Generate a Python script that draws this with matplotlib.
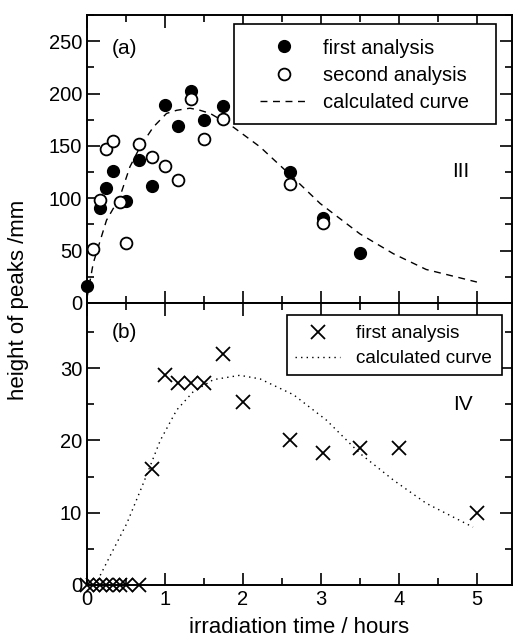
import matplotlib
matplotlib.use("Agg")
import matplotlib.pyplot as plt
from matplotlib.ticker import MultipleLocator
from matplotlib.patches import Rectangle

plt.rcParams['font.family'] = ['Liberation Sans', 'DejaVu Sans']

# ---- panel (a) data ----
t_first_a = [0.0, 0.167, 0.25, 0.333, 0.5, 0.667, 0.833, 1.0, 1.167, 1.333, 1.5, 1.75, 2.6, 3.03, 3.5]
h_first_a = [16, 91, 110, 126, 97, 137, 112, 189, 169, 202, 175, 188, 125, 81, 48]

t_second_a = [0.083, 0.167, 0.25, 0.333, 0.417, 0.5, 0.667, 0.833, 1.0, 1.167, 1.333, 1.5, 1.75, 2.6, 3.03]
h_second_a = [52, 98, 147, 155, 96, 57, 152, 139, 131, 117, 195, 157, 176, 114, 76]

t_calc_a = [0.0, 0.08, 0.25, 0.42, 0.55, 0.68, 0.85, 1.02, 1.15, 1.32, 1.45, 1.58, 1.875, 2.22, 2.64, 2.99, 3.5, 3.93, 4.35, 5.0]
h_calc_a = [5, 38, 79, 101, 130, 149, 168, 181, 184, 186, 184, 181, 168, 149, 120, 95, 66, 47, 32, 20]

# ---- panel (b) data ----
t_first_b = [0.0, 0.083, 0.167, 0.25, 0.333, 0.417, 0.5, 0.667, 0.833, 1.0, 1.167, 1.333, 1.5, 1.75, 2.0, 2.6, 3.03, 3.5, 4.0, 5.0]
h_first_b = [0, 0, 0, 0, 0, 0, 0, 0, 16, 29, 28, 28, 28, 32, 25.3, 20, 18.2, 19, 19, 10]

t_calc_b = [0.1, 0.14, 0.29, 0.51, 0.72, 0.94, 1.15, 1.36, 1.62, 1.96, 2.22, 2.65, 3.07, 3.5, 3.93, 4.35, 4.95]
h_calc_b = [0, 0.7, 3.9, 8.5, 14, 20, 24.2, 26.7, 28.4, 29.0, 28.5, 26.3, 22.8, 18.2, 14.5, 11.3, 8.0]

W, H = 516, 644
fig = plt.figure(figsize=(W/100, H/100), dpi=100)
ax1 = fig.add_axes([87/W, 1-303/H, (512-87)/W, (303-15)/H])
ax2 = fig.add_axes([87/W, 1-585/H, (512-87)/W, (585-303)/H])

fs_tick = 14.5
for ax in (ax1, ax2):
    ax.set_xlim(0, 5.45)
    ax.xaxis.set_major_locator(MultipleLocator(1))
    ax.xaxis.set_minor_locator(MultipleLocator(0.5))
    ax.tick_params(which='both', direction='in', top=True, right=True, labelsize=fs_tick, width=1.2)
    ax.tick_params(which='major', length=9)
    ax.tick_params(which='minor', length=5)
    for s in ax.spines.values():
        s.set_linewidth(1.4)

# panel (a)
ax1.plot(t_calc_a, h_calc_a, color='black', ls=(0, (5, 4)), lw=1.0, label='calculated curve', zorder=2)
ax1.plot(t_first_a, h_first_a, 'o', color='black', ms=8.5, label='first analysis', zorder=3, clip_on=False)
ax1.plot(t_second_a, h_second_a, 'o', mfc='white', mec='black', mew=1.3, ms=8.5, label='second analysis', zorder=4, clip_on=False)
ax1.set_ylim(0, 275)
ax1.yaxis.set_major_locator(MultipleLocator(50))
ax1.yaxis.set_minor_locator(MultipleLocator(25))
ax1.tick_params(labelbottom=False)

# legend frame (a)
ax1.add_patch(Rectangle((234/W, 1-124/H), (496-234)/W, (124-24)/H, transform=fig.transFigure,
                        fill=True, facecolor='white', edgecolor='black', lw=1.2, zorder=5, clip_on=False))
h, l = ax1.get_legend_handles_labels()
order = [1, 2, 0]
leg1 = ax1.legend([h[i] for i in order], [l[i] for i in order], loc='upper left',
                  bbox_to_anchor=(260/W, 1-38.5/H), bbox_transform=fig.transFigure,
                  fontsize=14.5, frameon=False, borderpad=0, borderaxespad=0,
                  handlelength=2.35, labelspacing=0.4, handletextpad=0.8)
leg1.set_zorder(6)
ax1.text(112/W, 1-48/H, '(a)', transform=fig.transFigure, fontsize=15, va='center', ha='left')
ax1.text(461/W, 1-172/H, 'III', transform=fig.transFigure, fontsize=15, va='center', ha='center')

# panel (b)
ax2.plot(t_first_b, h_first_b, 'x', color='black', ms=10, mew=1.3, label='first analysis', zorder=3, clip_on=False)
ax2.plot(t_calc_b, h_calc_b, color='black', ls=(0, (1, 3)), lw=1.0, label='calculated curve', zorder=2)
ax2.set_ylim(0, 39)
ax2.yaxis.set_major_locator(MultipleLocator(10))
ax2.yaxis.set_minor_locator(MultipleLocator(5))

ax2.add_patch(Rectangle((287/W, 1-375/H), (502-287)/W, (375-315)/H, transform=fig.transFigure,
                        fill=True, facecolor='white', edgecolor='black', lw=1.2, zorder=5, clip_on=False))
leg2 = ax2.legend(loc='upper left', bbox_to_anchor=(295/W, 1-325/H), bbox_transform=fig.transFigure,
                  fontsize=13.6, frameon=False, borderpad=0, borderaxespad=0,
                  handlelength=2.4, labelspacing=0.42, handletextpad=0.85)
leg2.set_zorder(6)
ax2.text(112/W, 1-333/H, '(b)', transform=fig.transFigure, fontsize=15, va='center', ha='left')
ax2.text(463/W, 1-405/H, 'IV', transform=fig.transFigure, fontsize=15, va='center', ha='center')

ax2.set_xlabel('irradiation time / hours', fontsize=16, labelpad=6)
fig.text(19/W, 1-300/H, 'height of peaks /mm', rotation=90, fontsize=16, va='center', ha='center')

fig.savefig('out.png', dpi=100)
